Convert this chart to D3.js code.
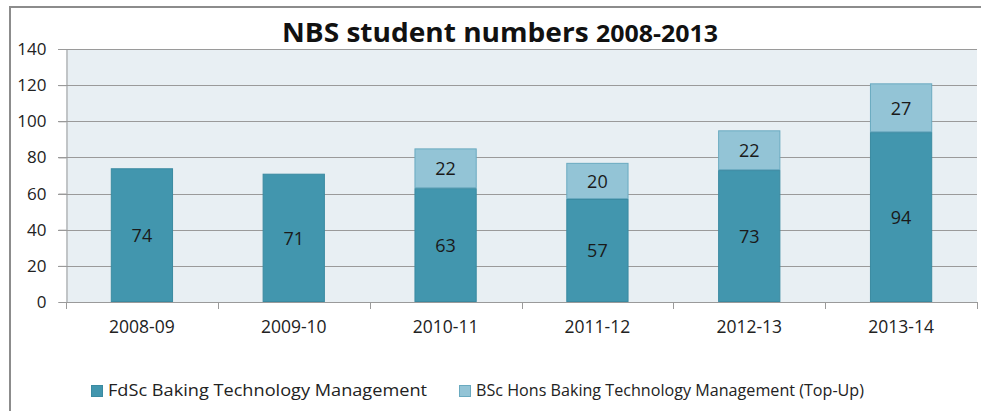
<!DOCTYPE html>
<html>
<head>
<meta charset="utf-8">
<script src="https://cdn.jsdelivr.net/npm/d3@7"></script>
<style>
  html, body { margin: 0; padding: 0; background: #fff; }
  svg { display: block; }
  text { font-family: "Open Sans", "DejaVu Sans", sans-serif; }
</style>
</head>
<body>
<svg id="chart" width="981" height="411"></svg>
<script>
// Academic years
const years = ["2008-09", "2009-10", "2010-11", "2011-12", "2012-13", "2013-14"];
// FdSc Baking Technology Management
const fdsc = [74, 71, 63, 57, 73, 94];
// BSc Hons Baking Technology Management (Top-Up)
const bsc = [0, 0, 22, 20, 22, 27];
const seriesNames = ["FdSc Baking Technology Management", "BSc Hons Baking Technology Management (Top-Up)"];
const yTicks = [0, 20, 40, 60, 80, 100, 120, 140];

const colors = ["#4296ae", "#93c4d6"];
const strokes = ["#3a8aa1", "#6aaac0"];

const svg = d3.select("#chart");
const W = 981, H = 411;
const plot = { left: 66, right: 977, top: 49, bottom: 302 };

// Outer chart frame (left and top edges visible)
svg.append("path")
  .attr("d", `M10,${H} L10,7 L${W},7`)
  .attr("fill", "none")
  .attr("stroke", "#8c8c8c")
  .attr("stroke-width", 2);

// Title
const title = svg.append("text")
  .attr("x", 500).attr("y", 42)
  .attr("text-anchor", "middle")
  .attr("font-weight", "bold")
  .attr("fill", "#111")
  .attr("textLength", 436).attr("lengthAdjust", "spacingAndGlyphs");
title.append("tspan").attr("font-size", 27).text("NBS student numbers ");
title.append("tspan").attr("font-size", 24).text("2008-2013");

const x = d3.scaleBand().domain(years).range([plot.left, plot.right]).paddingInner(0.59).paddingOuter(0.295);
const xb = d3.scaleBand().domain(years).range([plot.left, plot.right]);
const y = d3.scaleLinear().domain([0, 140]).range([plot.bottom, plot.top]);

// Plot background
svg.append("rect")
  .attr("x", plot.left).attr("y", plot.top)
  .attr("width", plot.right - plot.left).attr("height", plot.bottom - plot.top)
  .attr("fill", "#e8eff3");

// Gridlines with tick stubs to the left
svg.append("g").selectAll("line").data(yTicks.filter(d => d > 0)).join("line")
  .attr("x1", plot.left - 8).attr("x2", plot.right)
  .attr("y1", d => Math.round(y(d)) + 0.5).attr("y2", d => Math.round(y(d)) + 0.5)
  .attr("stroke", "#9a9a9a").attr("stroke-width", 1);

// Y axis
const yAxis = d3.axisLeft(y).tickValues(yTicks).tickSize(8).tickPadding(12);
const gy = svg.append("g").attr("transform", `translate(${plot.left + 0.5},0)`).call(yAxis);
gy.select(".domain").attr("stroke", "#9a9a9a");
gy.selectAll(".tick line").attr("stroke", "#9a9a9a");
gy.selectAll(".tick text").attr("font-size", 17).attr("fill", "#222").attr("font-family", null);

// Stacked bars
const stackData = years.map((yr, i) => ({ year: yr, fdsc: fdsc[i], bsc: bsc[i] }));
const stacked = d3.stack().keys(["fdsc", "bsc"])(stackData);

stacked.forEach((layer, li) => {
  const g = svg.append("g");
  g.selectAll("rect").data(layer.filter(d => d[1] - d[0] > 0)).join("rect")
    .attr("x", d => x(d.data.year) + 0.5)
    .attr("y", d => y(d[1]) + 0.5)
    .attr("width", x.bandwidth() - 1)
    .attr("height", d => y(d[0]) - y(d[1]) - 1)
    .attr("fill", colors[li])
    .attr("stroke", strokes[li])
    .attr("stroke-width", 1);
  g.selectAll("text").data(layer.filter(d => d[1] - d[0] > 0)).join("text")
    .attr("x", d => x(d.data.year) + x.bandwidth() / 2)
    .attr("y", d => (y(d[0]) + y(d[1])) / 2 + 7)
    .attr("text-anchor", "middle")
    .attr("font-size", 18)
    .attr("fill", "#1a1a1a")
    .text(d => d[1] - d[0]);
});

// X axis baseline and category ticks
svg.append("line")
  .attr("x1", plot.left).attr("x2", plot.right)
  .attr("y1", plot.bottom + 0.5).attr("y2", plot.bottom + 0.5)
  .attr("stroke", "#9a9a9a");
const bounds = years.map(d => xb(d)).concat([plot.right]);
svg.append("g").selectAll("line").data(bounds).join("line")
  .attr("x1", d => Math.round(d) + 0.5).attr("x2", d => Math.round(d) + 0.5)
  .attr("y1", plot.bottom).attr("y2", plot.bottom + 7)
  .attr("stroke", "#9a9a9a");
svg.append("g").selectAll("text").data(years).join("text")
  .attr("x", d => xb(d) + xb.bandwidth() / 2)
  .attr("y", plot.bottom + 31)
  .attr("text-anchor", "middle")
  .attr("font-size", 17.5)
  .attr("fill", "#222")
  .text(d => d);

// Legend
const legendItems = [{ x: 91, i: 0, w: 319 }, { x: 459, i: 1, w: 388 }];
const lg = svg.append("g");
legendItems.forEach(({ x: lx, i, w }) => {
  lg.append("rect")
    .attr("x", lx + 0.5).attr("y", 385.5).attr("width", 11).attr("height", 11)
    .attr("fill", colors[i]).attr("stroke", strokes[i]);
  lg.append("text")
    .attr("x", lx + 17).attr("y", 396)
    .attr("font-size", 17).attr("fill", "#222")
    .attr("textLength", w).attr("lengthAdjust", "spacingAndGlyphs")
    .text(seriesNames[i]);
});
</script>
</body>
</html>
